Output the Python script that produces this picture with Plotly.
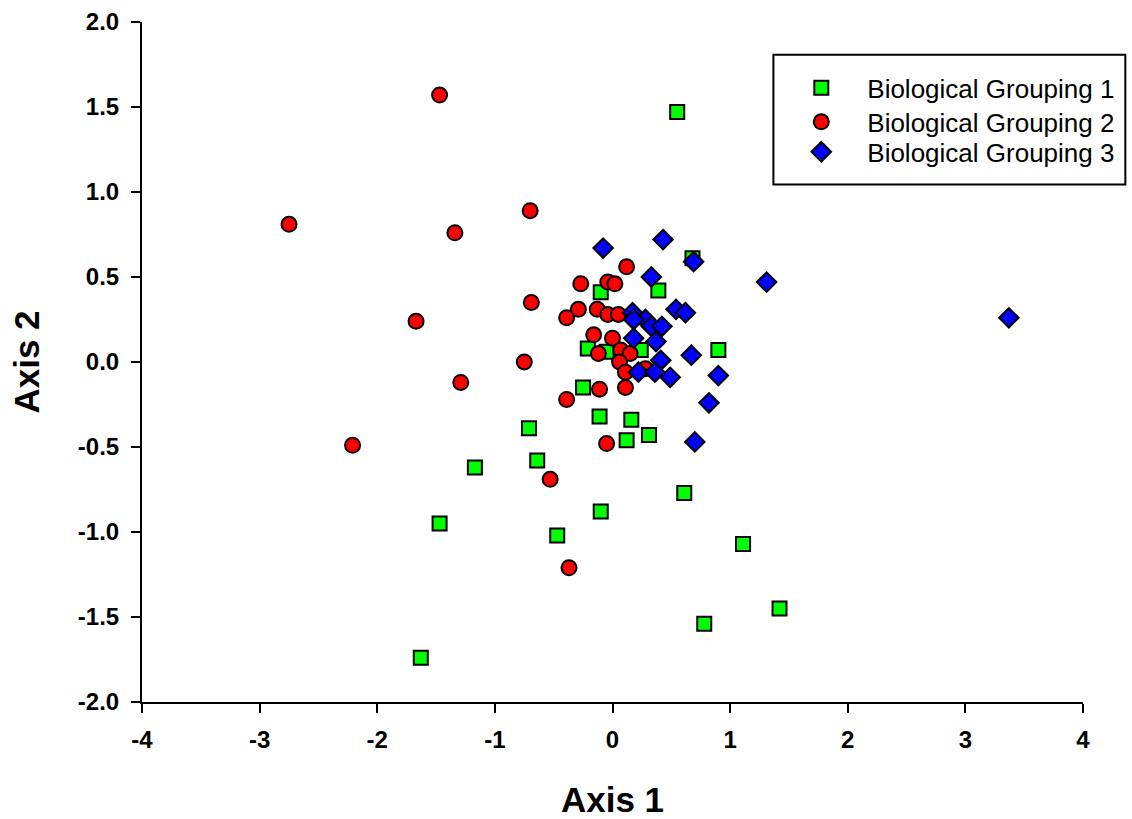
import plotly.graph_objects as go

# Ordination scores for each biological grouping (Axis 1, Axis 2)
g1_x = [0.55, 0.68, 0.39, -0.10, -0.21, 0.24, 0.90, -0.05, -0.25, -0.11, 0.16, 0.12,
        0.31, -0.71, -0.64, -1.17, 0.61, -0.10, -0.47, 1.11, -1.47, 1.42, 0.78, -1.63]
g1_y = [1.47, 0.61, 0.42, 0.41, 0.08, 0.07, 0.07, 0.06, -0.15, -0.32, -0.34, -0.46,
        -0.43, -0.39, -0.58, -0.62, -0.77, -0.88, -1.02, -1.07, -0.95, -1.45, -1.54, -1.74]

g2_x = [-1.47, -2.75, -0.70, -1.34, 0.12, -0.27, -0.04, 0.02, -0.69, -0.29, -0.39,
        -0.13, -0.04, 0.05, -1.67, -0.16, 0.00, -0.12, 0.07, 0.15, 0.06, -0.75, 0.11,
        0.28, 0.11, -0.11, -1.29, -0.39, -2.21, -0.05, -0.53, -0.37]
g2_y = [1.57, 0.81, 0.89, 0.76, 0.56, 0.46, 0.47, 0.46, 0.35, 0.31, 0.26,
        0.31, 0.28, 0.28, 0.24, 0.16, 0.14, 0.05, 0.07, 0.05, 0.00, 0.00, -0.06,
        -0.04, -0.15, -0.16, -0.12, -0.22, -0.49, -0.48, -0.69, -1.21]

g3_x = [3.37, 1.31, -0.08, 0.43, 0.69, 0.33, 0.54, 0.62, 0.17, 0.28, 0.18, 0.33,
        0.42, 0.18, 0.37, 0.41, 0.22, 0.36, 0.49, 0.67, 0.90, 0.82, 0.70]
g3_y = [0.26, 0.47, 0.67, 0.72, 0.59, 0.50, 0.31, 0.29, 0.29, 0.25, 0.25, 0.21,
        0.21, 0.14, 0.12, 0.01, -0.06, -0.06, -0.09, 0.04, -0.08, -0.24, -0.47]

names = ["Biological Grouping 1", "Biological Grouping 2", "Biological Grouping 3"]

x_ticks = [-4, -3, -2, -1, 0, 1, 2, 3, 4]
y_ticks = [-2.0, -1.5, -1.0, -0.5, 0.0, 0.5, 1.0, 1.5, 2.0]

FONT = "Arial, Liberation Sans, sans-serif"

fig = go.Figure()
fig.add_trace(go.Scatter(
    x=g1_x, y=g1_y, mode="markers", name=names[0], legend="legend",
    marker=dict(symbol="square", size=14, color="#00ff00",
                line=dict(color="black", width=2)),
))
fig.add_trace(go.Scatter(
    x=g2_x, y=g2_y, mode="markers", name=names[1], legend="legend2",
    marker=dict(symbol="circle", size=15, color="#ff0000",
                line=dict(color="black", width=2)),
))
fig.add_trace(go.Scatter(
    x=g3_x, y=g3_y, mode="markers", name=names[2], legend="legend3",
    marker=dict(symbol="diamond", size=15, color="#0000ff",
                line=dict(color="black", width=2)),
))

# Framed legend box
fig.add_shape(type="rect", xref="paper", yref="paper",
              x0=0.671, x1=1.045, y0=0.761, y1=0.952,
              line=dict(color="black", width=2), fillcolor="white", layer="below")


def legend_row(ypos):
    return dict(
        x=0.673, y=ypos, xanchor="left", yanchor="middle",
        bgcolor="rgba(0,0,0,0)", borderwidth=0,
        font=dict(family=FONT, size=26, color="black"),
        itemwidth=82,
    )


tick_font = dict(family=FONT, size=24, color="black", weight="bold")
title_font = dict(family=FONT, size=35, color="black", weight="bold")

fig.update_layout(
    width=1132, height=819,
    margin=dict(l=142, r=47, t=22, b=117),
    paper_bgcolor="white", plot_bgcolor="white",
    font=dict(family=FONT, color="black"),
    showlegend=True,
    legend=legend_row(0.903),
    legend2=legend_row(0.853),
    legend3=legend_row(0.809),
    xaxis=dict(
        range=[-4, 4], tickvals=x_ticks, ticktext=[str(v) for v in x_ticks],
        showgrid=False, zeroline=False, automargin=False,
        showline=True, linecolor="black", linewidth=2,
        ticks="outside", ticklen=9, tickwidth=2, tickcolor="black",
        ticklabelstandoff=6,
        tickfont=tick_font,
        title=dict(text="Axis 1", font=title_font, standoff=39),
    ),
    yaxis=dict(
        range=[-2, 2], tickvals=y_ticks, ticktext=[f"{v:.1f}" for v in y_ticks],
        showgrid=False, zeroline=False, automargin=False,
        showline=True, linecolor="black", linewidth=2,
        ticks="outside", ticklen=9, tickwidth=2, tickcolor="black",
        ticklabelstandoff=7,
        tickfont=tick_font,
        title=dict(text="Axis 2", font=title_font, standoff=28),
    ),
)

fig.write_html("out.html")
